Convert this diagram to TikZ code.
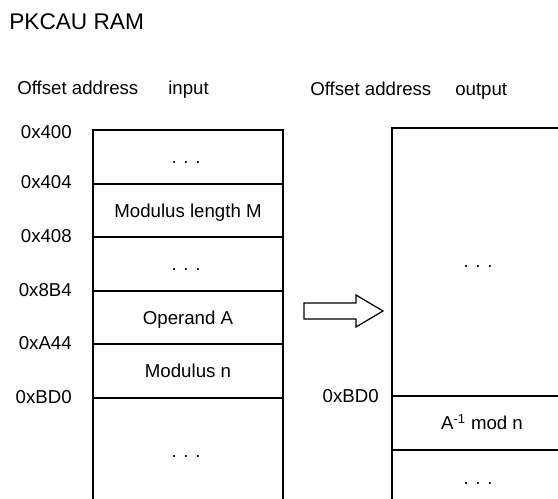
\documentclass[tikz,border=0pt]{standalone}
\usepackage{fontspec}
\setmainfont{Liberation Sans}
\begin{document}
\begin{tikzpicture}[x=0.75pt,y=-0.75pt,
  txt/.style={inner sep=0pt,font=\fontsize{14pt}{16pt}\selectfont},
  ttl/.style={inner sep=0pt,font=\fontsize{17pt}{19pt}\selectfont},
  addr/.style={txt,anchor=base east},
  cell/.style={txt,anchor=base},
  memline/.style={line width=0.9pt},
]
\useasboundingbox (0,0) rectangle (558,499);
\newcommand{\mydots}{.\hspace{0.36em}.\hspace{0.36em}.}
% title and headings
\node[ttl,anchor=base west] (title) at (9,30) {PKCAU RAM};
\node[txt,anchor=base west] (offL) at (17,95) {Offset address};
\node[txt,anchor=base west] (inp) at (168,95) {input};
\node[txt,anchor=base west] (offR) at (310,96) {Offset address};
\node[txt,anchor=base west] (outp) at (455,96) {output};
% left memory
\draw[memline] (93,510) -- (93,130) -- (283,130) -- (283,510);
\foreach \yy in {184,237,291,344,398} \draw[memline] (93,\yy) -- (283,\yy);
\node[addr] (a400) at (72,139) {0x400};
\node[addr] (a404) at (72,189) {0x404};
\node[addr] (a408) at (72,243) {0x408};
\node[addr] (a8b4) at (72,297) {0x8B4};
\node[addr] (aa44) at (72,350) {0xA44};
\node[addr] (abd0) at (72,404) {0xBD0};
\node[cell] (c1) at (186,164) {\mydots};
\node[cell] (c2) at (188,217.5) {Modulus length M};
\node[cell] (c3) at (186,271) {\mydots};
\node[cell] (c4) at (188,325) {Operand A};
\node[cell] (c5) at (188,378) {Modulus n};
\node[cell] (c6) at (186,458) {\mydots};
% arrow
\draw[line width=0.9pt,line join=miter] (304,303) -- (356,303) -- (356,295) -- (383,311) -- (356,327) -- (356,319) -- (304,319) -- cycle;
% right memory
\draw[memline] (392,510) -- (392,128) -- (580,128);
\foreach \yy in {396,450} \draw[memline] (392,\yy) -- (580,\yy);
\node[addr] (rbd0) at (379,403) {0xBD0};
\node[cell] (r1) at (478,268) {\mydots};
\node[cell] (r2) at (482,430) {A\textsuperscript{-1} mod n};
\node[cell] (r3) at (478,485) {\mydots};
\end{tikzpicture}
\end{document}
